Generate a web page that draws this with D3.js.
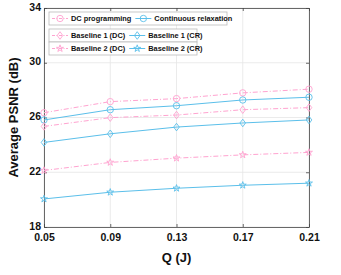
<!DOCTYPE html>
<html><head>
<meta charset="utf-8">
<script src="https://d3js.org/d3.v7.min.js"></script>
<style>
body { margin: 0; background: #fff; }
text { font-family: 'Liberation Sans', Arial, sans-serif; font-weight: bold; }
</style>
</head>
<body>
<div id="chart"></div>
<script>
// data
var qValues = [0.05, 0.09, 0.13, 0.17, 0.21];
var yTicks = [18, 22, 26, 30, 34];
var dcProg  = [26.35, 27.16, 27.38, 27.80, 28.07];
var contRel = [25.82, 26.57, 26.86, 27.28, 27.48];
var base1DC = [25.35, 25.99, 26.18, 26.57, 26.72];
var base1CR = [24.18, 24.81, 25.30, 25.60, 25.82];
var base2DC = [22.13, 22.72, 23.03, 23.27, 23.45];
var base2CR = [20.05, 20.54, 20.83, 21.05, 21.20];

var pink = "#ffa3d0", blue = "#5bbfea";

var series = [
  {name: "DC programming", vals: dcProg, color: pink, dash: "5,2,1,2", shape: "circle"},
  {name: "Continuous relaxation", vals: contRel, color: blue, dash: null, shape: "circle"},
  {name: "Baseline 1 (DC)", vals: base1DC, color: pink, dash: "5,2,1,2", shape: "diamond"},
  {name: "Baseline 1 (CR)", vals: base1CR, color: blue, dash: null, shape: "diamond"},
  {name: "Baseline 2 (DC)", vals: base2DC, color: pink, dash: "5,2,1,2", shape: "star"},
  {name: "Baseline 2 (CR)", vals: base2CR, color: blue, dash: null, shape: "star"}
];

var W = 341, H = 275;
var m = {l: 44, r: 32, t: 8, b: 48};
var iw = W - m.l - m.r, ih = H - m.t - m.b;

var svg = d3.select("#chart").append("svg")
    .attr("width", W).attr("height", H);

var x = d3.scaleLinear().domain([0.05, 0.21]).range([0, iw]);
var y = d3.scaleLinear().domain([18, 34]).range([ih, 0]);

var g = svg.append("g").attr("transform", "translate(" + m.l + "," + m.t + ")");

// grid
g.append("g").selectAll("line").data(qValues).join("line")
    .attr("x1", d => x(d)).attr("x2", d => x(d))
    .attr("y1", 0).attr("y2", ih)
    .attr("stroke", "#e6e6e6").attr("stroke-width", 0.8);
g.append("g").selectAll("line").data(yTicks).join("line")
    .attr("y1", d => y(d)).attr("y2", d => y(d))
    .attr("x1", 0).attr("x2", iw)
    .attr("stroke", "#e6e6e6").attr("stroke-width", 0.8);

// axes
var xAx = g.append("g").attr("transform", "translate(0," + ih + ")")
    .call(d3.axisBottom(x).tickValues(qValues).tickFormat(d3.format(".2f")).tickSizeInner(-3).tickSizeOuter(0).tickPadding(7));
var yAx = g.append("g")
    .call(d3.axisLeft(y).tickValues(yTicks).tickSizeInner(-3).tickSizeOuter(0).tickPadding(3));
g.append("g").call(d3.axisTop(x).tickValues(qValues).tickFormat("").tickSizeInner(-3).tickSizeOuter(0));
g.append("g").attr("transform", "translate(" + iw + ",0)")
    .call(d3.axisRight(y).tickValues(yTicks).tickFormat("").tickSizeInner(-3).tickSizeOuter(0));
g.selectAll(".domain, .tick line").attr("stroke", "#444").attr("stroke-width", 0.8);
g.selectAll(".tick text").attr("fill", "#111").style("font-size", "10.5px").style("font-weight", "bold");
yAx.selectAll(".tick text").attr("dy", "0.2em");

// axis titles
svg.append("text").attr("x", m.l + iw / 2).attr("y", 262)
    .attr("text-anchor", "middle").style("font-size", "13px").attr("fill", "#111").text("Q (J)");
svg.append("text").attr("transform", "translate(18," + (m.t + ih / 2) + ") rotate(-90)")
    .attr("text-anchor", "middle").style("font-size", "13px").attr("fill", "#111").text("Average PSNR (dB)");

// markers
var starSym = d3.symbol().type(d3.symbolStar).size(15);
function drawMarker(sel, shape, color) {
  if (shape === "circle") {
    sel.append("circle").attr("r", 3.2);
  } else if (shape === "diamond") {
    sel.append("path").attr("d", "M0,-3.8L2.8,0L0,3.8L-2.8,0Z");
  } else {
    sel.append("path").attr("d", starSym());
  }
  sel.selectAll("circle, path").attr("fill", "none").attr("stroke", color).attr("stroke-width", 0.9);
}

var line = d3.line().x((d, i) => x(qValues[i])).y(d => y(d));

series.forEach(function(s) {
  g.append("path").datum(s.vals).attr("d", line)
      .attr("fill", "none").attr("stroke", s.color).attr("stroke-width", 1)
      .attr("stroke-dasharray", s.dash);
  s.vals.forEach(function(v, i) {
    var mk = g.append("g").attr("transform", "translate(" + x(qValues[i]) + "," + y(v) + ")");
    drawMarker(mk, s.shape, s.color);
  });
});

// legend: three boxes, two entries each
var legRows = [
  {y: 12, w: 178, items: [series[0], series[1]]},
  {y: 29, w: 148, items: [series[2], series[3]]},
  {y: 42, w: 148, items: [series[4], series[5]]}
];
legRows.forEach(function(r) {
  var lg = svg.append("g").attr("transform", "translate(49," + r.y + ")");
  lg.append("rect").attr("width", r.w).attr("height", 13)
      .attr("fill", "#fff").attr("stroke", "#bbb").attr("stroke-width", 0.8);
  var xoff = 3;
  r.items.forEach(function(s) {
    lg.append("line").attr("x1", xoff).attr("x2", xoff + 16).attr("y1", 6.5).attr("y2", 6.5)
        .attr("stroke", s.color).attr("stroke-width", 1).attr("stroke-dasharray", s.dash ? "3,1.5,1,1.5" : null);
    var mk = lg.append("g").attr("transform", "translate(" + (xoff + 8) + ",6.5)");
    drawMarker(mk, s.shape, s.color);
    var t = lg.append("text").attr("x", xoff + 19).attr("y", 9.3)
        .style("font-size", "7.4px").attr("fill", "#111").text(s.name);
    xoff += 19 + t.node().getComputedTextLength() + 4;
  });
});
</script>
</body>
</html>
